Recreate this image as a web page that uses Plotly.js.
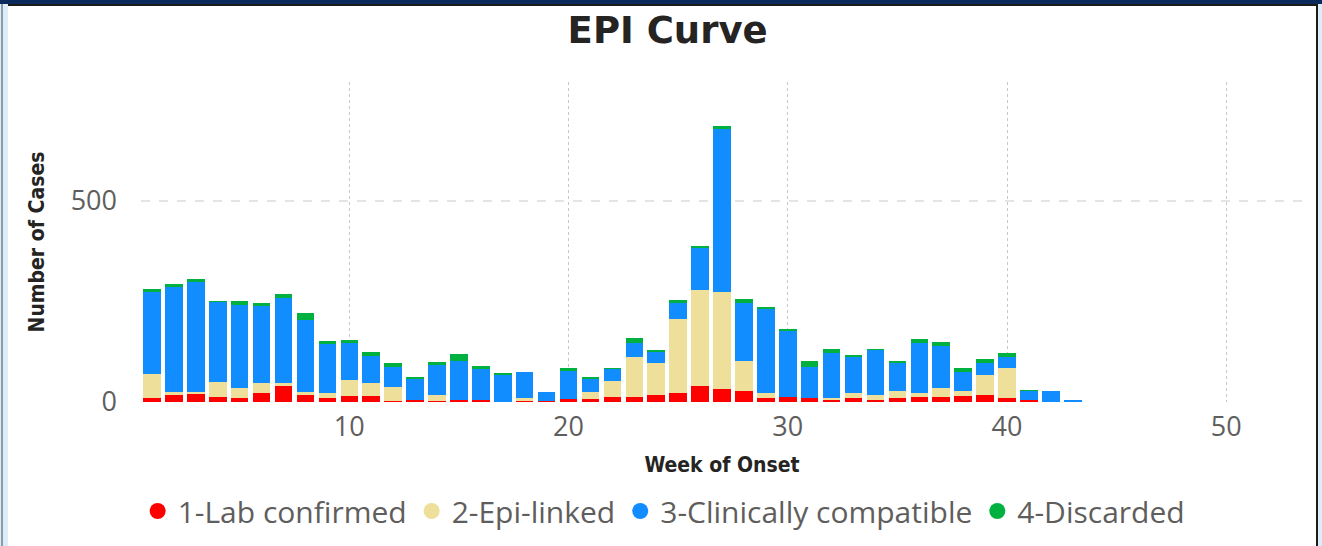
<!DOCTYPE html>
<html>
<head>
<meta charset="utf-8">
<script src="https://cdn.plot.ly/plotly-3.0.1.min.js"></script>
<style>
  html, body { margin: 0; padding: 0; background: #ffffff; }
  #wrap { position: relative; width: 1322px; height: 546px; overflow: hidden; }
  #chart { position: absolute; left: 0; top: 0; width: 1322px; height: 546px; }
  .deco { position: absolute; pointer-events: none; }
</style>
</head>
<body>
<div id="wrap">
  <div id="chart"></div>
  <div class="deco" style="left:0;top:0;width:1322px;height:4px;background:#0b2a5c;"></div>
  <div class="deco" style="left:8px;top:4px;width:1309px;height:2px;background:#1b1b1b;"></div>
  <div class="deco" style="left:0;top:4px;width:8px;height:542px;background:#dcedf8;"></div>
  <div class="deco" style="left:1px;top:4px;width:2px;height:542px;background:#8c9aa8;"></div>
  <div class="deco" style="left:1316px;top:4px;width:2px;height:542px;background:#1b1b1b;"></div>
  <div class="deco" style="left:1318px;top:4px;width:4px;height:542px;background:#dcedf8;"></div>
</div>
<script>
const weeks = [1,2,3,4,5,6,7,8,9,10,11,12,13,14,15,16,17,18,19,20,21,22,23,24,25,26,27,28,29,30,31,32,33,34,35,36,37,38,39,40,41,42,43];
const labConfirmed = [11,17,19,12,9,22,41,17,10,15,16,2,5,2,6,6,0,3,2,7,7,12,13,18,22,39,33,27,10,12,9,5,9,5,10,13,13,14,17,9,4,0,0];
const epiLinked = [58,7,7,37,27,25,6,7,12,40,31,35,0,15,0,0,0,8,0,0,19,41,98,78,185,240,241,74,13,0,0,6,14,12,17,9,23,13,50,76,0,0,0];
const clinicallyCompatible = [205,261,273,201,205,193,211,180,122,91,68,50,53,74,96,76,66,63,24,70,30,28,37,28,39,103,404,145,209,165,79,110,89,112,69,126,103,48,30,26,23,27,5];
const discarded = [6,8,8,2,10,6,10,18,8,8,9,10,5,9,17,8,5,1,0,7,5,4,10,5,7,5,9,11,4,5,13,12,5,4,5,8,10,9,9,10,4,0,0];

const seriesNames = ['1-Lab confirmed', '2-Epi-linked', '3-Clinically compatible', '4-Discarded'];
const seriesValues = [labConfirmed, epiLinked, clinicallyCompatible, discarded];
const seriesColors = ['#ff0000', '#eedf9a', '#118dff', '#00b140'];
const xTicks = [10, 20, 30, 40, 50];
const yTicks = [0, 500];

const traces = [];
seriesValues.forEach((vals, i) => {
  traces.push({
    type: 'bar', x: weeks, y: vals, name: seriesNames[i],
    marker: { color: seriesColors[i], line: { width: 0 } },
    showlegend: false, legendgroup: 'g' + i, hoverinfo: 'x+y+name'
  });
});
seriesValues.forEach((vals, i) => {
  traces.push({
    type: 'scatter', mode: 'markers', x: [null], y: [null], name: seriesNames[i],
    marker: { color: seriesColors[i], size: 22, symbol: 'circle' },
    legendgroup: 'g' + i, showlegend: true
  });
});

const layout = {
  width: 1322, height: 546,
  margin: { l: 141, r: 19, t: 82, b: 144 },
  paper_bgcolor: '#ffffff', plot_bgcolor: '#ffffff',
  barmode: 'stack', bargap: 0.2,
  title: {
    text: '<b>EPI Curve</b>',
    font: { family: 'DejaVu Sans, sans-serif', size: 37, color: '#252423' },
    x: 0.505, xanchor: 'center', xref: 'container',
    y: 1 - 30/546, yanchor: 'middle', yref: 'container'
  },
  xaxis: {
    range: [0.5, 53.5], tickvals: xTicks, ticktext: xTicks.map(String),
    showgrid: true, gridcolor: '#c8c8c8', griddash: 'dot', gridwidth: 1,
    zeroline: false, showline: false, ticks: '',
    tickfont: { family: 'Open Sans, sans-serif', size: 27, color: '#605e5c' },
    ticklabelstandoff: 6,
    title: { text: '<b>Week of Onset</b>', standoff: 14,
      font: { family: 'DejaVu Sans Condensed, DejaVu Sans, sans-serif', size: 21, color: '#252423' } }
  },
  yaxis: {
    range: [0, 796], tickvals: yTicks, ticktext: yTicks.map(String),
    showgrid: true, gridcolor: '#e4e4e4', griddash: 'dash', gridwidth: 1.5,
    zeroline: false, showline: false, ticks: '',
    tickfont: { family: 'Open Sans, sans-serif', size: 27, color: '#605e5c' },
    ticklabelstandoff: 23,
    title: { text: '<b>Number of Cases</b>', standoff: 20,
      font: { family: 'DejaVu Sans Condensed, DejaVu Sans, sans-serif', size: 21, color: '#252423' } }
  },
  legend: {
    orientation: 'h', xref: 'container', yref: 'container',
    x: 0.502, xanchor: 'center', y: 1 - 511/546, yanchor: 'middle',
    font: { family: 'Open Sans, sans-serif', size: 30, color: '#605e5c' },
    itemwidth: 30, tracegroupgap: 0, traceorder: 'normal'
  },
  showlegend: true
};

Plotly.newPlot('chart', traces, layout, { displayModeBar: false, staticPlot: true });
</script>
</body>
</html>
